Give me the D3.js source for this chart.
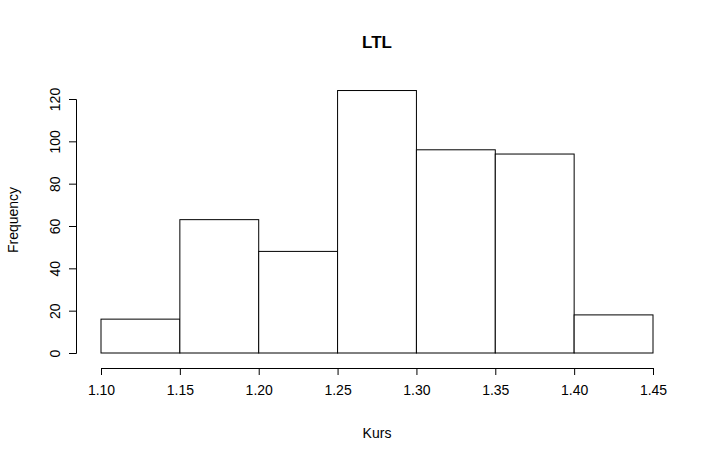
<!DOCTYPE html>
<html><head><meta charset="utf-8">
<script src="https://cdn.jsdelivr.net/npm/d3@7"></script>
<style>body{margin:0;background:#fff}text{font-family:"Liberation Sans",Arial,sans-serif}</style>
</head><body>
<script>
const binStarts = [1.10,1.15,1.20,1.25,1.30,1.35,1.40];
const binWidth = 0.05;
const counts = [16,63,48,124,96,94,18];
const xTicks = [1.10,1.15,1.20,1.25,1.30,1.35,1.40,1.45];
const yTicks = [0,20,40,60,80,100,120];

const svg = d3.select("body").append("svg").attr("width",716).attr("height",462);
const x = d3.scaleLinear().domain([1.10,1.45]).range([101,653]);
const y = d3.scaleLinear().domain([0,120]).range([353,99]);

svg.selectAll("rect.bar").data(counts).enter().append("rect")
  .attr("x",(d,i)=>x(binStarts[i])).attr("width",(d,i)=>x(binStarts[i]+binWidth)-x(binStarts[i]))
  .attr("y",d=>y(d)).attr("height",d=>y(0)-y(d))
  .attr("fill","#fff").attr("stroke","#000").attr("stroke-width",1);

const xa = svg.append("g").attr("transform","translate(0,368)")
  .call(d3.axisBottom(x).tickValues(xTicks).tickFormat(d3.format(".2f")).tickSizeOuter(0).tickSize(7).tickPadding(10));
const ya = svg.append("g").attr("transform","translate(76,0)")
  .call(d3.axisLeft(y).tickValues(yTicks).tickSizeOuter(0).tickSize(7));
[xa,ya].forEach(a=>{a.attr("font-size",null).attr("font-family",null);a.selectAll("text").style("font-size","14px").attr("fill","#000");a.selectAll("line,path").attr("stroke","#000");});
ya.selectAll(".tick text").attr("transform","translate(-21,0) rotate(-90)").attr("x",0).attr("y",0).attr("dy","0.35em").attr("text-anchor","middle");

svg.append("text").attr("x",377).attr("y",48).attr("text-anchor","middle").style("font-size","17px").attr("font-weight","bold").text("LTL");
svg.append("text").attr("x",377).attr("y",438).attr("text-anchor","middle").style("font-size","14px").text("Kurs");
svg.append("text").attr("transform","translate(18,220) rotate(-90)").attr("text-anchor","middle").style("font-size","14px").text("Frequency");
</script>
</body></html>
